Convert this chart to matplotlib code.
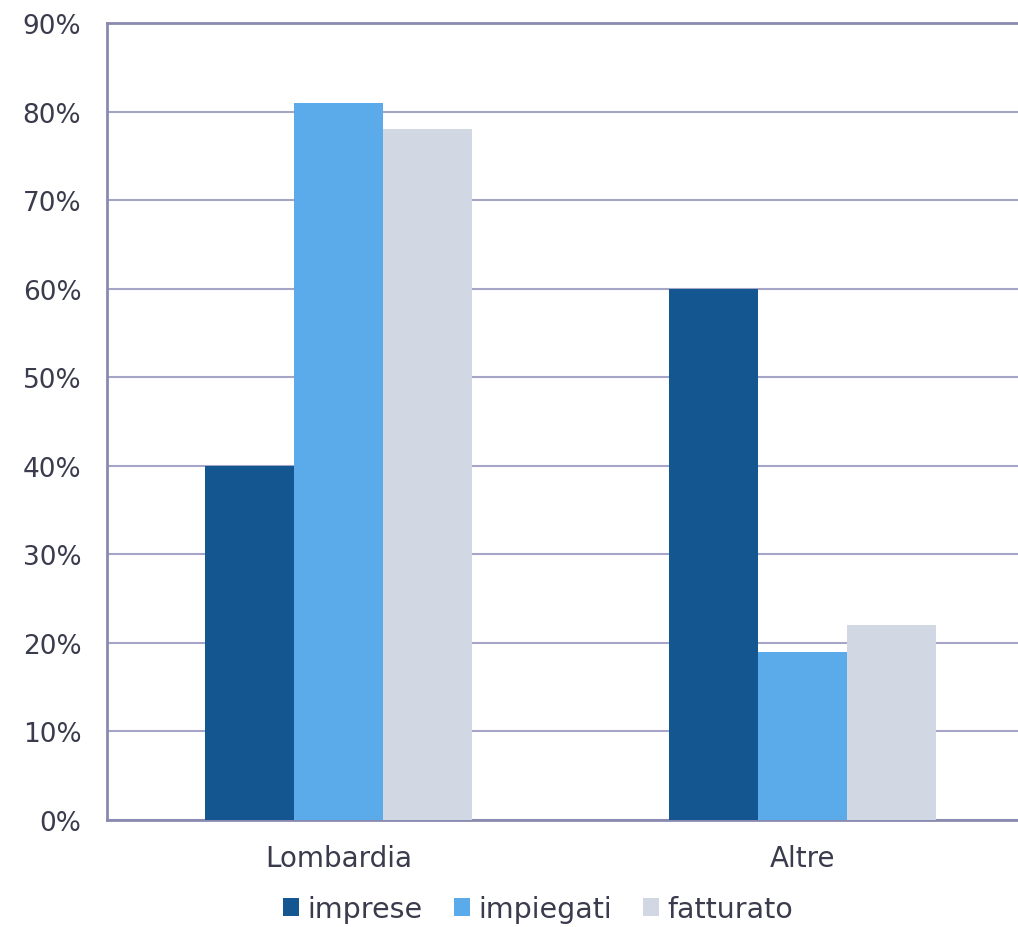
import matplotlib
matplotlib.use("Agg")
import matplotlib.pyplot as plt
import numpy as np
from matplotlib.ticker import FuncFormatter

categories = ["Lombardia", "Altre"]
series_names = ["imprese", "impiegati", "fatturato"]
imprese = [40, 60]
impiegati = [81, 19]
fatturato = [78, 22]
yticks = [0, 10, 20, 30, 40, 50, 60, 70, 80, 90]

colors = ["#14568F", "#5BAAEA", "#D1D8E4"]
grid_color = "#A5A5C8"
text_color = "#3A3B4C"

plt.rcParams["font.family"] = ["DejaVu Sans"]

W, H = 1018, 928
fig = plt.figure(figsize=(W / 100, H / 100), dpi=100)
left, right = 107 / W, 1034 / W
bottom, top = (H - 821) / H, (H - 24) / H
ax = fig.add_axes([left, bottom, right - left, top - bottom])

x = np.arange(len(categories))
width = 0.192
for i, (name, vals) in enumerate(zip(series_names, [imprese, impiegati, fatturato])):
    ax.bar(x + (i - 1) * width, vals, width, color=colors[i], label=name, zorder=3)

ax.set_xlim(-0.5, 1.5)
ax.set_ylim(0, 90)
ax.set_yticks(yticks)
ax.yaxis.set_major_formatter(FuncFormatter(lambda v, p: f"{int(v)}%"))
ax.set_xticks(x)
ax.set_xticklabels(categories)
ax.tick_params(axis="both", length=0, colors=text_color)
ax.tick_params(axis="y", labelsize=19, pad=18.5)
ax.tick_params(axis="x", labelsize=20, pad=17)

ax.grid(axis="y", color=grid_color, linewidth=1.5, zorder=0)
for s in ["left", "bottom", "top"]:
    ax.spines[s].set_color("#8A8AB0")
    ax.spines[s].set_linewidth(2)
ax.spines["right"].set_visible(False)

handles, labels = ax.get_legend_handles_labels()
fig.legend(handles, labels, loc="center", bbox_to_anchor=(538 / W, 1 - 910 / H),
           ncol=3, frameon=False, fontsize=20.5, labelcolor=text_color,
           handlelength=0.56, handleheight=0.56, handletextpad=0.3, columnspacing=1.1,
           borderpad=0.1)

fig.savefig("out.png", dpi=100)
